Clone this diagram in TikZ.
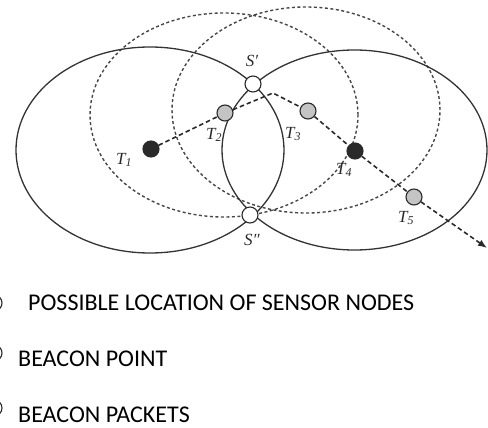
\documentclass[tikz,border=0pt]{standalone}
\usepackage{fontspec}
\setmainfont{Liberation Serif}
\newfontfamily\legendfont{Carlito}
\usetikzlibrary{arrows.meta}
\definecolor{ringc}{HTML}{333333}
\definecolor{darkn}{HTML}{2A2A2A}
\definecolor{grayn}{HTML}{C4C4C4}
\tikzset{
  ring/.style={draw=ringc, line width=1.3pt},
  dring/.style={draw=ringc!90, line width=1.4pt, dash pattern=on 3pt off 2.5pt},
  pt/.style={circle, draw=darkn, line width=1.1pt, minimum size=16pt, inner sep=0pt},
  whitept/.style={pt, fill=white},
  blackpt/.style={pt, fill=darkn},
  graypt/.style={pt, fill=grayn},
  lbl/.style={font=\fontsize{17}{17}\selectfont\itshape, inner sep=0pt, text=darkn},
  path/.style={draw=darkn, line width=1.6pt, dash pattern=on 4.5pt off 3pt},
  legtext/.style={font=\fontsize{24}{24}\selectfont\legendfont, anchor=base west, inner sep=0pt}
}
\begin{document}
\begin{tikzpicture}[x=1pt,y=-1pt]
\useasboundingbox (0,0) rectangle (488,428);
% dashed range circles
\draw[dring] (224,115) ellipse [x radius=134pt, y radius=102pt];
\draw[dring] (306,110) ellipse [x radius=134pt, y radius=103pt];
% solid range circles
\draw[ring] (150,150) ellipse [x radius=134pt, y radius=103pt];
\draw[ring] (354.5,150) ellipse [x radius=132.5pt, y radius=100pt];
% points
\node[whitept] (S1) at (253,84) {};
\node[whitept] (S2) at (250,215) {};
\node[blackpt] (T1) at (151,149) {};
\node[graypt] (T2) at (225,113) {};
\node[graypt] (T3) at (308,111) {};
\node[blackpt] (T4) at (355,151) {};
\node[graypt] (T5) at (414,197) {};
\coordinate (K) at (273,93);
\coordinate (E) at (487,248);
% trajectory
\draw[path] (T1) -- (T2);
\draw[path] (T2) -- (K) -- (T3);
\draw[path] (T3) -- (T4);
\draw[path] (T4) -- (T5);
\draw[path, -{Latex[length=9pt,width=7pt]}] (T5) -- (E);
% labels
\node[lbl] (LS1) at (252,61) {S′};
\node[lbl] (LS2) at (252,240) {S″};
\node[lbl] (L1) at (124,160) {T\textsubscript{1}};
\node[lbl] (L2) at (214,135) {T\textsubscript{2}};
\node[lbl] (L3) at (293,134) {T\textsubscript{3}};
\node[lbl] (L4) at (344,170) {T\textsubscript{4}};
\node[lbl] (L5) at (406,218) {T\textsubscript{5}};
% legend
\node[whitept] (G1) at (-6,303) {};
\node[whitept] (G2) at (-6,353) {};
\node[whitept] (G3) at (-6,408) {};
\node[legtext] (P1) at (28,310) {POSSIBLE LOCATION OF SENSOR NODES};
\node[legtext] (P2) at (18,366) {BEACON POINT};
\node[legtext] (P3) at (18,422) {BEACON PACKETS};
\end{tikzpicture}
\end{document}
